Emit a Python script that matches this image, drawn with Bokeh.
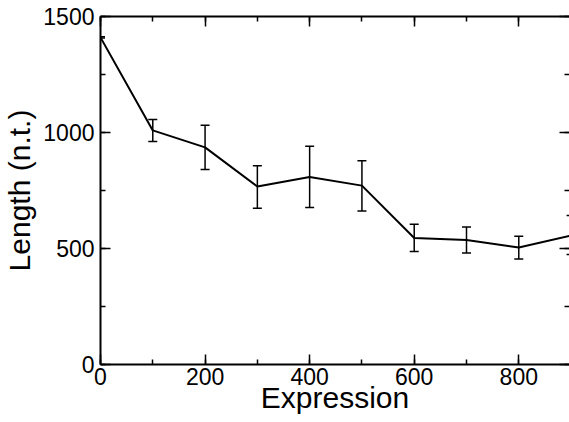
from bokeh.plotting import figure
from bokeh.models import (ColumnDataSource, Whisker, TeeHead, Range1d, LinearAxis,
                          SingleIntervalTicker)
from bokeh.embed import file_html
from bokeh.resources import INLINE

expression = [0, 100, 200, 300, 400, 500, 600, 700, 800, 900]
length = [1410, 1009, 936, 767, 808, 771, 545, 537, 504, 556]
err_low = [1407, 961, 840, 674, 677, 662, 487, 481, 455, 474]
err_high = [1413, 1056, 1031, 857, 941, 878, 605, 593, 553, 642]

FONT = "Liberation Sans"

src = ColumnDataSource(dict(x=expression, y=length, lo=err_low, hi=err_high))

p = figure(width=569, height=422, output_backend="svg", toolbar_location=None,
           x_range=Range1d(0, 897), y_range=Range1d(0, 1500),
           x_axis_label="Expression", y_axis_label="Length (n.t.)",
           min_border_left=0, min_border_right=0, min_border_top=16, min_border_bottom=58)
p.outline_line_color = None
p.grid.visible = False
p.background_fill_color = "white"

xt = SingleIntervalTicker(interval=200, num_minor_ticks=2)
yt = SingleIntervalTicker(interval=500, num_minor_ticks=2)

def style(ax, labels=True, line=True):
    ax.axis_line_color = "black" if line else None
    ax.axis_line_width = 2
    ax.major_tick_in = 10
    ax.major_tick_out = 0
    ax.minor_tick_in = 5
    ax.minor_tick_out = 0
    ax.major_tick_line_color = "black"
    ax.minor_tick_line_color = "black"
    ax.major_tick_line_width = 1.5
    ax.minor_tick_line_width = 1.5
    if labels:
        ax.major_label_text_font = FONT
        ax.major_label_text_font_size = "23px"
        ax.major_label_text_color = "black"
        ax.axis_label_text_font = FONT
        ax.axis_label_text_font_size = "30px"
        ax.axis_label_text_font_style = "normal"
        ax.axis_label_text_color = "black"
    else:
        ax.major_label_text_font_size = "0px"
        ax.major_label_text_color = None

xa = p.xaxis[0]
xa.ticker = xt
style(xa)
xa.major_label_standoff = 3
xa.axis_label_standoff = -7

ya = p.yaxis[0]
ya.ticker = yt
style(ya)
ya.major_label_standoff = 6
ya.axis_label_standoff = 4

top = LinearAxis(ticker=SingleIntervalTicker(interval=200, num_minor_ticks=2))
style(top, labels=False)
p.add_layout(top, "above")
right = LinearAxis(ticker=SingleIntervalTicker(interval=500, num_minor_ticks=2))
style(right, labels=False, line=False)
p.add_layout(right, "right")

p.line("x", "y", source=src, line_color="black", line_width=2)
p.add_layout(Whisker(source=src, base="x", lower="lo", upper="hi",
                     line_color="black", line_width=1.5,
                     upper_head=TeeHead(size=9, line_color="black", line_width=1.5),
                     lower_head=TeeHead(size=9, line_color="black", line_width=1.5)))

open("out.html", "w").write(file_html(p, INLINE))
